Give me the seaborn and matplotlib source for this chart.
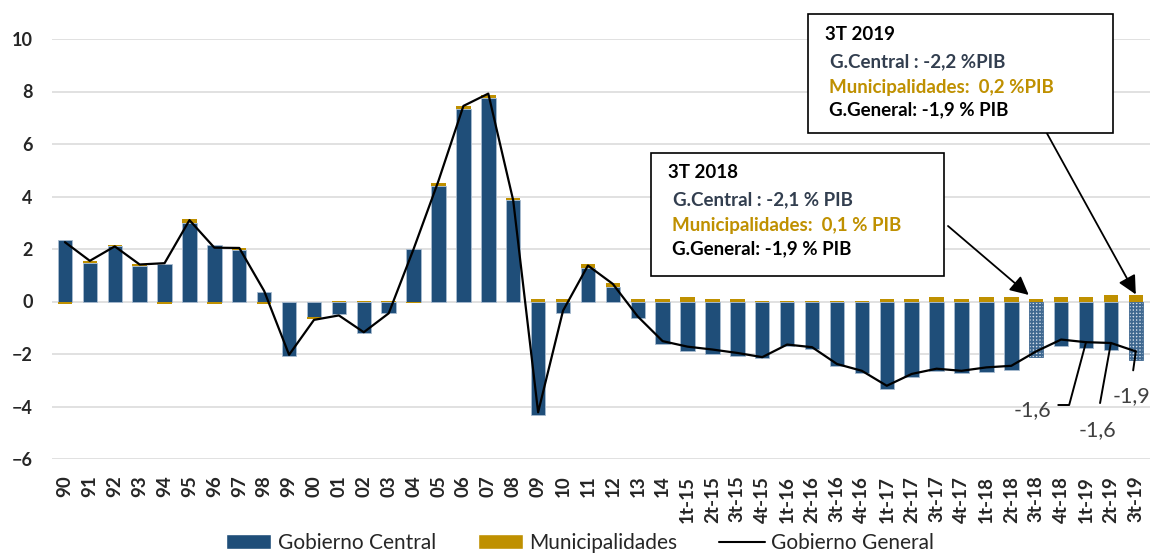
import numpy as np
import matplotlib
matplotlib.use("Agg")
import matplotlib.pyplot as plt
from matplotlib.patches import Rectangle, Patch
from matplotlib.lines import Line2D
import seaborn as sns

# Categories (years, then quarters)
years = ["90", "91", "92", "93", "94", "95", "96", "97", "98", "99",
         "00", "01", "02", "03", "04", "05", "06", "07", "08", "09",
         "10", "11", "12", "13", "14"]
quarters = ["1t-15", "2t-15", "3t-15", "4t-15", "1t-16", "2t-16", "3t-16", "4t-16",
            "1t-17", "2t-17", "3t-17", "4t-17", "1t-18", "2t-18", "3t-18", "4t-18",
            "1t-19", "2t-19", "3t-19"]
categories = years + quarters

# Balance, % PIB
central = [2.35, 1.48, 2.1, 1.36, 1.43, 3.0, 2.15, 1.97, 0.37, -2.06,
           -0.6, -0.47, -1.21, -0.42, 2.01, 4.4, 7.32, 7.76, 3.88, -4.31,
           -0.43, 1.28, 0.55, -0.62, -1.61,
           -1.87, -2.0, -2.07, -2.15, -1.7, -1.82, -2.47, -2.74,
           -3.32, -2.89, -2.66, -2.74, -2.7, -2.61, -2.1, -1.7,
           -1.76, -1.83, -2.23]
municipal = [-0.09, 0.05, 0.05, 0.05, -0.09, 0.13, -0.08, 0.06, -0.08, 0.0,
             -0.07, 0.01, 0.01, 0.01, -0.06, 0.12, 0.13, 0.12, 0.05, 0.1,
             0.1, 0.13, 0.15, 0.1, 0.1,
             0.16, 0.1, 0.1, 0.01, 0.01, 0.01, 0.01, 0.01,
             0.09, 0.09, 0.16, 0.09, 0.16, 0.16, 0.1, 0.16,
             0.16, 0.23, 0.23]
general = [2.26, 1.55, 2.1, 1.41, 1.46, 3.1, 2.05, 2.04, 0.4, -2.03,
           -0.7, -0.53, -1.17, -0.45, 2.0, 4.6, 7.45, 7.92, 3.85, -4.22,
           -0.35, 1.37, 0.67, -0.57, -1.51,
           -1.72, -1.83, -1.96, -2.12, -1.64, -1.74, -2.38, -2.64,
           -3.21, -2.76, -2.56, -2.64, -2.51, -2.45, -1.9, -1.45,
           -1.55, -1.58, -1.9]

hatched = ["3t-18", "3t-19"]   # preliminary figures
labelled = {"1t-19": "-1,6", "2t-19": "-1,6", "3t-19": "-1,9"}

box_2018 = ["3T 2018", "G.Central : -2,1 % PIB", "Municipalidades:  0,1 % PIB", "G.General: -1,9 % PIB"]
box_2019 = ["3T 2019", "G.Central : -2,2 %PIB", "Municipalidades:  0,2 %PIB", "G.General: -1,9 % PIB"]

BLUE = "#1F4E79"
GOLD = "#BF9000"
W, H = 1150, 554

sns.set_style("white")
plt.rcParams["font.family"] = ["Lato", "DejaVu Sans"]
plt.rcParams["hatch.linewidth"] = 1.3

fig = plt.figure(figsize=(W / 100, H / 100), dpi=100)
ax = fig.add_axes([52 / W, 95 / H, (W - 52) / W, 420 / H])

n = len(categories)
idx = np.arange(n)

sns.barplot(x=categories, y=central, order=categories, color=BLUE, saturation=1,
            width=0.58, edgecolor="#A9BCD0", linewidth=0.6, ax=ax)

for i, c in enumerate(categories):
    if c in hatched:
        p = ax.patches[i]
        p.set_facecolor("#D3DDE8")
        p.set_edgecolor("#3F6890")
        p.set_hatch("+++++")

# municipal bars stacked the Excel way
central_arr = np.array(central)
muni_arr = np.array(municipal)
bottom = np.where(np.sign(muni_arr) == np.sign(central_arr), central_arr, 0.0)
ax.bar(idx, muni_arr, bottom=bottom, width=0.58, color=GOLD, edgecolor="none")

sns.lineplot(x=idx, y=general, color="black", linewidth=1.6, ax=ax)

ax.set_xlim(-0.52, 43.57)
ax.set_ylim(-6, 10)
ax.set_yticks(range(-6, 11, 2))
ax.set_xticks(idx)
ax.set_xticklabels(categories, rotation=90, fontweight="bold", fontsize=13.5)
for t in ax.get_yticklabels():
    t.set_fontweight("bold")
    t.set_fontsize(13)
ax.tick_params(axis="both", length=0)
ax.tick_params(axis="y", pad=14)
ax.tick_params(axis="x", pad=12)
ax.set_xlabel("")
ax.set_ylabel("")
ax.grid(axis="y", color="#D9D9D9", linewidth=1.1)
ax.set_axisbelow(True)
sns.despine(ax=ax, left=True, bottom=True)


def fx(px):
    return px / W


def fy(py):
    return 1 - py / H


# annotation boxes
for (x0, y0, x1, y1), lines, rows in [((651, 153, 944, 276), box_2018, (172, 200, 225, 249)),
                                      ((808, 14, 1113, 133), box_2019, (35, 62, 87, 110))]:
    fig.patches.append(Rectangle((fx(x0), fy(y1)), fx(x1) - fx(x0), fy(y0) - fy(y1),
                                 transform=fig.transFigure, fill=True, facecolor="white",
                                 edgecolor="black", linewidth=1.2, zorder=5))
    colors = ["black", "#323E4F", GOLD, "black"]
    offs = [17, 22, 21, 21]
    for s, c, yy, o in zip(lines, colors, rows, offs):
        fig.text(fx(x0 + o), fy(yy), s, color=c, fontweight="bold", fontsize=13.5,
                 va="center", ha="left", zorder=6)

# arrows from boxes
ax.annotate("", xy=(38.7, 0.25), xytext=(948, H - 226), textcoords="figure pixels",
            arrowprops=dict(arrowstyle="-|>", color="black", lw=1.3, mutation_scale=28,
                            shrinkA=0, shrinkB=0))
ax.annotate("", xy=(43.0, 0.27), xytext=(1044, H - 128), textcoords="figure pixels",
            arrowprops=dict(arrowstyle="-|>", color="black", lw=1.3, mutation_scale=28,
                            shrinkA=0, shrinkB=0))

# value labels with leader lines
pos = {c: i for i, c in enumerate(categories)}
i = pos["1t-19"]
ax.annotate(labelled["1t-19"], xy=(i, general[i]), xytext=(1032, H - 410), textcoords="figure pixels",
            ha="center", va="center", fontsize=15.5, color="#404040",
            arrowprops=dict(arrowstyle="-", color="black", lw=1.4, shrinkA=3, shrinkB=0,
                            relpos=(1, 0.75), connectionstyle="angle,angleA=0,angleB=75,rad=0"))
i = pos["2t-19"]
ax.annotate(labelled["2t-19"], xy=(i, general[i]), xytext=(1097, H - 430), textcoords="figure pixels",
            ha="center", va="center", fontsize=15.5, color="#404040",
            arrowprops=dict(arrowstyle="-", color="black", lw=1.4, shrinkA=10, shrinkB=0,
                            relpos=(0.5, 1)))
i = pos["3t-19"]
ax.annotate(labelled["3t-19"], xy=(i, general[i]), xytext=(1131, H - 396), textcoords="figure pixels",
            ha="center", va="center", fontsize=15.5, color="#404040",
            arrowprops=dict(arrowstyle="-", color="black", lw=1.4, shrinkA=9, shrinkB=0,
                            relpos=(0.5, 1)))

handles = [Patch(facecolor=BLUE), Patch(facecolor=GOLD), Line2D([], [], color="black", lw=1.5)]
fig.legend(handles, ["Gobierno Central", "Municipalidades", "Gobierno General"],
           loc="center", bbox_to_anchor=(fx(580), fy(543)), ncol=3, frameon=False,
           fontsize=15, handlelength=2.2, handleheight=0.7, handletextpad=0.3,
           columnspacing=2.0, labelcolor="#262626")

fig.savefig("out.png", dpi=100)
